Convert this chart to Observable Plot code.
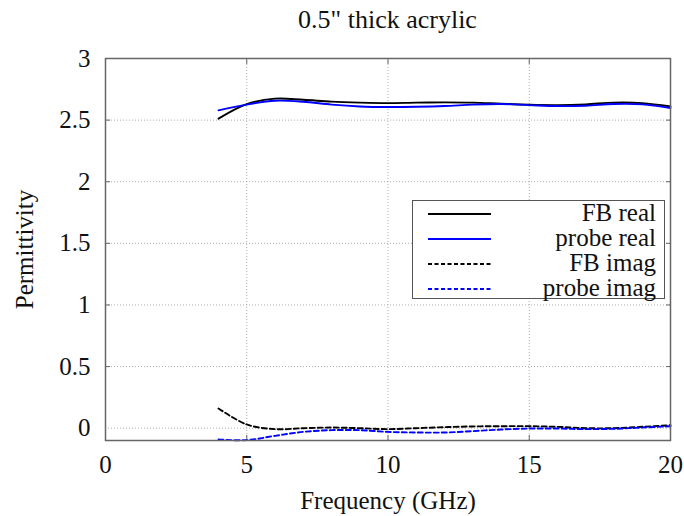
<!DOCTYPE html>
<html>
<head>
<meta charset="utf-8">
<script src="https://cdn.jsdelivr.net/npm/d3@7"></script>
<script src="https://cdn.jsdelivr.net/npm/@observablehq/plot@0.6"></script>
<style>
  body { margin: 0; background: #fff; }
  #wrap { position: relative; width: 684px; height: 516px; font-family: "Liberation Serif", "DejaVu Serif", serif; }
  #title { position: absolute; top: 5px; left: 105px; width: 565px; text-align: center; font-size: 26px; line-height: 30px; color: #111; }
  #chart { position: absolute; left: 0; top: 0; }
  #legend { position: absolute; left: 412px; top: 200px; width: 251px; height: 97px; border: 1px solid #555; background: #fff; }
  #legend svg { position: absolute; left: 0; top: 0; }
  .lrow { position: absolute; right: 8px; font-size: 25px; line-height: 25px; color: #111; text-align: right; white-space: nowrap; }
</style>
</head>
<body>
<div id="wrap">
  <div id="chart"></div>
  <div id="title">0.5" thick acrylic</div>
  <div id="legend"></div>
</div>
<script>
const freq = [4,5,6,7,8,9,10,11,12,13,14,15,16,17,18,19,20];
const fbReal    = [2.512,2.630,2.674,2.665,2.650,2.642,2.638,2.642,2.644,2.642,2.633,2.625,2.622,2.628,2.642,2.638,2.611];
const probeReal = [2.579,2.626,2.657,2.649,2.626,2.611,2.606,2.608,2.614,2.626,2.631,2.622,2.614,2.617,2.631,2.628,2.598];
const fbImag    = [0.160,0.030,-0.008,0.000,0.005,0.000,-0.008,0.000,0.008,0.014,0.016,0.016,0.011,0.000,0.000,0.011,0.024];
const probeImag = [-0.092,-0.097,-0.062,-0.030,-0.016,-0.016,-0.030,-0.035,-0.035,-0.024,-0.011,-0.003,-0.003,-0.008,-0.005,0.005,0.016];

const seriesNames = ["FB real", "probe real", "FB imag", "probe imag"];
const seriesValues = [fbReal, probeReal, fbImag, probeImag];
const seriesColors = ["#000000", "#0000ff", "#000000", "#0000ff"];
const seriesDash = [null, null, "5,3", "5,3"];

const xTicks = [0, 5, 10, 15, 20];
const yTicks = [0, 0.5, 1, 1.5, 2, 2.5, 3];
const xGrid = [5, 10, 15];
const yGrid = [0, 0.5, 1, 1.5, 2, 2.5];

const series = seriesNames.map((name, i) => freq.map((f, j) => ({f, v: seriesValues[i][j], name})));

const marks = [
  Plot.gridX(xGrid, {stroke: "#999", strokeOpacity: 0.8, strokeDasharray: "1,2"}),
  Plot.gridY(yGrid, {stroke: "#999", strokeOpacity: 0.8, strokeDasharray: "1,2"}),
  Plot.axisX(xTicks, {tickSize: 0, tickPadding: 15, fontSize: 25, label: "Frequency (GHz)", labelAnchor: "center", labelOffset: 68, labelArrow: "none"}),
  Plot.axisY(yTicks, {tickSize: 0, tickPadding: 15, fontSize: 25, tickFormat: d => String(d), label: "Permittivity", labelAnchor: "center", labelOffset: 90, labelArrow: "none"}),
  Plot.axisX(xGrid, {anchor: "bottom", tickSize: -5, text: null, label: null, stroke: "#666"}),
  Plot.axisX(xGrid, {anchor: "top", tickSize: -5, text: null, label: null, stroke: "#666"}),
  Plot.axisY(yGrid.slice(1), {anchor: "left", tickSize: -5, text: null, label: null, stroke: "#666"}),
  Plot.axisY(yGrid.slice(1), {anchor: "right", tickSize: -5, text: null, label: null, stroke: "#666"}),
];
series.forEach((data, i) => {
  marks.push(Plot.line(data, {x: "f", y: "v", stroke: seriesColors[i], strokeWidth: 1.9, strokeDasharray: seriesDash[i], curve: "catmull-rom"}));
});
marks.push(Plot.frame({stroke: "#666", strokeWidth: 1.5}));

const plot = Plot.plot({
  width: 684,
  height: 516,
  marginTop: 58,
  marginLeft: 105,
  marginRight: 14,
  marginBottom: 76,
  style: {fontFamily: "'Liberation Serif', 'DejaVu Serif', serif", fontSize: "25px", color: "#111", background: "#fff"},
  x: {domain: [0, 20]},
  y: {domain: [-0.1, 3]},
  marks
});
document.getElementById("chart").appendChild(plot);

// legend
const lg = document.getElementById("legend");
const ns = "http://www.w3.org/2000/svg";
const svg = document.createElementNS(ns, "svg");
svg.setAttribute("width", 251); svg.setAttribute("height", 97);
seriesNames.forEach((name, i) => {
  const cy = 13 + i * 25;
  const ln = document.createElementNS(ns, "line");
  ln.setAttribute("x1", 15); ln.setAttribute("x2", 78);
  ln.setAttribute("y1", cy); ln.setAttribute("y2", cy);
  ln.setAttribute("stroke", seriesColors[i]);
  ln.setAttribute("stroke-width", 1.8);
  if (seriesDash[i]) ln.setAttribute("stroke-dasharray", "4,2.5");
  svg.appendChild(ln);
  const d = document.createElement("div");
  d.className = "lrow";
  d.style.top = (cy - 14) + "px";
  d.textContent = name;
  lg.appendChild(d);
});
lg.appendChild(svg);
</script>
</body>
</html>
